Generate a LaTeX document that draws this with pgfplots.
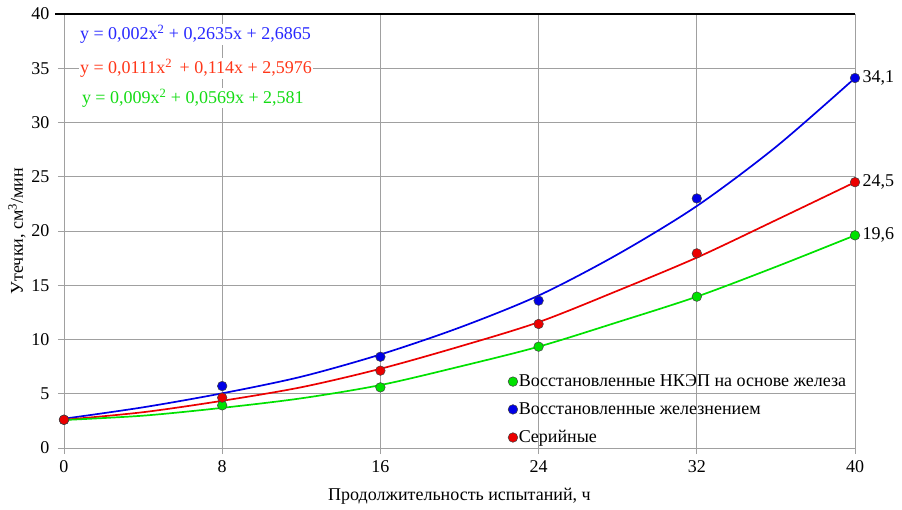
\documentclass[border=0pt]{standalone}
\usepackage{fontspec}
\setmainfont{Liberation Serif}
\usepackage{pgfplots}
\pgfplotsset{compat=1.18}
\definecolor{gridgray}{RGB}{160,160,160}
\definecolor{cblue}{RGB}{0,0,230}
\definecolor{cred}{RGB}{235,0,0}
\definecolor{cgreen}{RGB}{0,225,0}
\definecolor{eqblue}{RGB}{40,40,255}
\definecolor{eqred}{RGB}{255,55,25}
\definecolor{eqgreen}{RGB}{20,220,20}
\newcommand{\fs}{\fontsize{18}{21}\selectfont}
\begin{document}
\begin{tikzpicture}
\begin{axis}[
  scale only axis, width=791pt, height=434pt,
  xmin=0, xmax=40, ymin=0, ymax=40,
  xtick={0,8,16,24,32,40}, ytick={0,5,...,40},
  grid=major, grid style={gridgray, line width=0.9pt},
  axis line style={gridgray, line width=0.9pt},
  xtick pos=bottom, ytick pos=left,
  tick align=outside, major tick length=6pt,
  tick style={gridgray, line width=0.9pt},
  ticklabel style={font=\fs, text=black},
  xticklabel style={yshift=-3pt},
  yticklabel style={xshift=-5pt},
  /pgf/number format/assume math mode=true,
  xlabel={Продолжительность испытаний, ч},
  ylabel={Утечки, см\textsuperscript{3}/мин},
  xlabel style={font=\fs, yshift=-9pt},
  ylabel style={font=\fs, yshift=-1pt},
  clip=false,
  legend style={at={(axis cs:22.45,6.85)}, anchor=north west, draw=none, fill=none,
    font=\fs, inner sep=0pt, row sep=12.5pt, nodes={inner sep=1pt}},
  legend cell align=left,
  legend image code/.code={\draw[#1] plot coordinates {(0pt,0pt)};},
]
% trend curves
\addplot[cblue, line width=1.7pt, smooth, forget plot] coordinates
 {(0,2.7)(4,3.75)(8,5.04)(12,6.57)(16,8.62)(20,11.1)(24,14.05)(28,17.85)(32,22.3)(36,27.75)(40,34.1)};
\addplot[cred, line width=1.7pt, smooth, forget plot] coordinates
 {(0,2.6)(4,3.3)(8,4.35)(12,5.6)(16,7.3)(20,9.35)(24,11.6)(28,14.5)(32,17.55)(36,21.0)(40,24.5)};
\addplot[cgreen, line width=1.7pt, smooth, forget plot] coordinates
 {(0,2.58)(4,2.98)(8,3.7)(12,4.58)(16,5.8)(20,7.5)(24,9.34)(28,11.6)(32,13.95)(36,16.7)(40,19.6)};
% measured points
\addplot[only marks, mark=*, mark size=4.8pt, mark options={fill=cgreen, draw=black!75, line width=0.5pt}]
 coordinates {(0,2.6)(8,3.93)(16,5.59)(24,9.34)(32,13.95)(40,19.6)};
\addlegendentry{Восстановленные НКЭП на основе железа}
\addplot[only marks, mark=*, mark size=4.8pt, mark options={fill=cblue, draw=black!75, line width=0.5pt}]
 coordinates {(0,2.6)(8,5.71)(16,8.41)(24,13.58)(32,23.0)(40,34.1)};
\addlegendentry{Восстановленные железнением}
\addplot[only marks, mark=*, mark size=4.8pt, mark options={fill=cred, draw=black!75, line width=0.5pt}]
 coordinates {(0,2.6)(8,4.64)(16,7.13)(24,11.43)(32,17.94)(40,24.5)};
\addlegendentry{Серийные}
% data labels
\node[anchor=west, font=\fs, xshift=4pt] at (axis cs:40,34.1) {34,1};
\node[anchor=west, font=\fs, xshift=4pt] at (axis cs:40,24.5) {24,5};
\node[anchor=west, font=\fs, xshift=4pt] at (axis cs:40,19.6) {19,6};
% equations
\node[anchor=west, fill=white, inner sep=1pt, text=eqblue, font=\fs] at (axis cs:0.75,38.1) {y = 0,002x\textsuperscript{2} + 0,2635x + 2,6865};
\node[anchor=west, fill=white, inner sep=1pt, text=eqred, font=\fs] at (axis cs:0.75,35.0) {y = 0,0111x\textsuperscript{2} \,+ 0,114x + 2,5976};
\node[anchor=west, fill=white, inner sep=1pt, text=eqgreen, font=\fs] at (axis cs:0.85,32.25) {y = 0,009x\textsuperscript{2} + 0,0569x + 2,581};
\draw[black, line width=2.6pt] (axis cs:-0.45,40) -- (axis cs:40,40);
\end{axis}
\pgfresetboundingbox
\path (-64pt,-61pt) rectangle (838pt,448pt);
\end{tikzpicture}
\end{document}
